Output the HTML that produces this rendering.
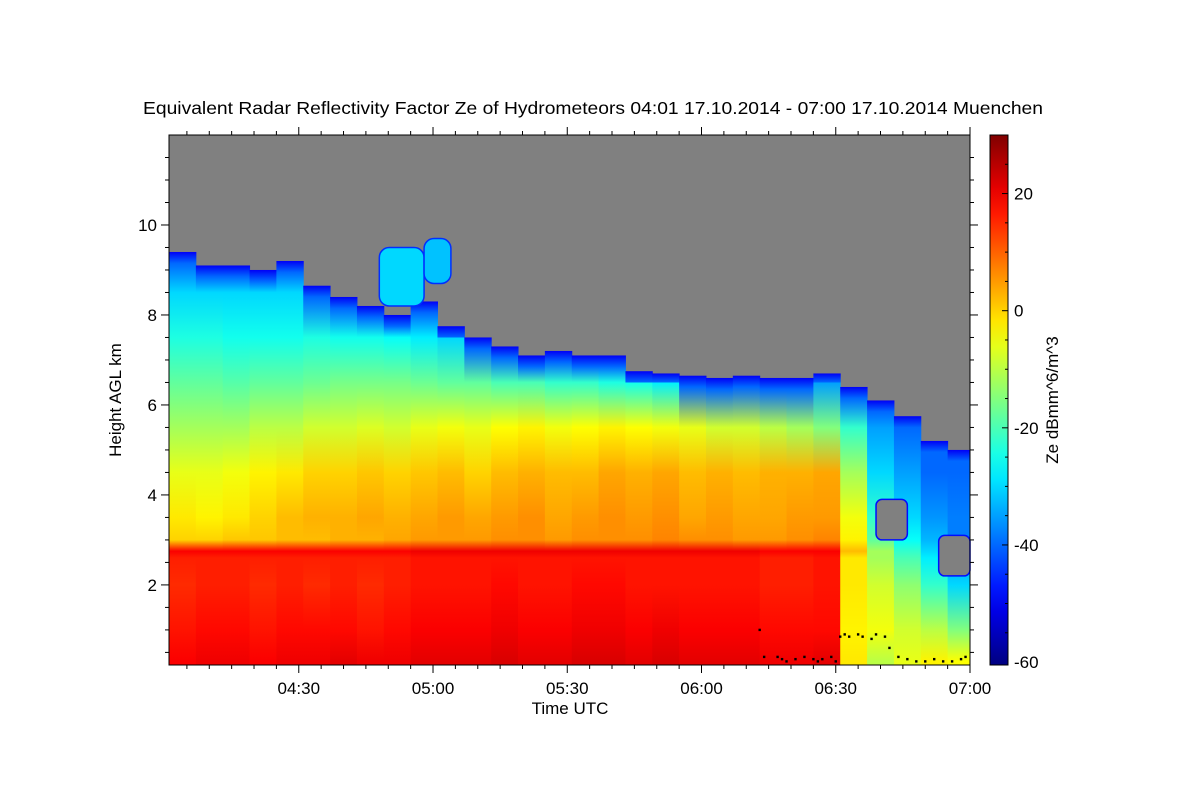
<!DOCTYPE html>
<html><head><meta charset="utf-8"><style>
html,body{margin:0;padding:0;background:#fff;width:1200px;height:800px;overflow:hidden}
svg text{font-family:"Liberation Sans",sans-serif;fill:#000}
</style></head><body>
<svg id="chart" width="1200" height="800" xmlns="http://www.w3.org/2000/svg">
<text x="143" y="114" font-size="17.5" textLength="900" lengthAdjust="spacingAndGlyphs">Equivalent Radar Reflectivity Factor Ze of Hydrometeors   04:01 17.10.2014 - 07:00 17.10.2014 Muenchen</text>
<text x="570" y="714" font-size="17" text-anchor="middle">Time UTC</text>
<text x="121" y="400" font-size="17" text-anchor="middle" transform="rotate(-90 121 400)">Height AGL km</text>
<text x="1058" y="400" font-size="17" text-anchor="middle" transform="rotate(-90 1058 400)">Ze dBmm^6/m^3</text>
<g id="plot"></g><g id="axes"></g><g id="cbar"></g>
</svg>
<script>
// ---- data ----
const colStartMin = [241,247,253,259,265,271,277,283,289,295,301,307,313,319,325,331,337,343,349,355,361,367,373,379,385,391,397,403,409,415];
const cloudTop = [9.4,9.1,9.1,9.0,9.2,8.65,8.4,8.2,8.0,8.3,7.75,7.5,7.3,7.1,7.2,7.1,7.1,6.75,6.7,6.65,6.6,6.65,6.6,6.6,6.7,6.4,6.1,5.75,5.2,5.0];
const levelsKm = [0.3,1.0,2.0,2.6,2.75,3.0,3.5,4.5,5.5,6.5,7.5,8.5,9.5];
const zeL0 = [19,20,20,19,20,20,21,20,20,21,21,21,22,21,21,22,22,21,22,21,21,21,20,20,21,-2,-10,-6,-3,-4];
const zeL1 = [17,18,18,17,18,18,18,17,18,19,19,19,20,19,19,20,20,19,20,19,19,19,18,18,18,-3,-5,-8,-10,-15];
const zeL2 = [15,16,16,15,16,15,16,15,16,17,17,17,18,17,17,18,18,17,17,17,17,17,16,16,17,-2,-8,-14,-22,-30];
const zeL3 = [16,16,16,16,16,16,16,16,16,17,17,17,17,17,17,17,17,17,17,17,17,17,16,16,17,-2,-12,-20,-28,-35];
const zeL4 = [19,19,19,19,19,19,19,19,19,20,20,20,20,20,20,20,20,20,20,20,20,20,19,19,19,2,-12,-22,-30,-36];
const zeL5 = [0,0,1,1,2,2,3,3,4,5,5,5,6,6,5,6,6,6,7,6,6,5,5,6,7,-3,-18,-26,-33,-38];
const zeL6 = [-2,-3,-2,0,2,3,3,4,3,4,5,4,5,6,4,5,6,5,6,4,5,4,4,5,5,-5,-22,-30,-36,-38];
const zeL7 = [-6,-6,-5,-3,-2,0,0,1,0,1,2,0,2,3,2,2,4,3,4,2,3,2,3,3,4,-12,-30,-35,-40,-40];
const zeL8 = [-12,-12,-12,-10,-10,-8,-8,-7,-8,-6,-5,-6,-4,-3,-5,-4,-3,-4,-5,-6,-8,-8,-10,-12,-15,-22,-35,-40,-42,-42];
const zeL9 = [-18,-18,-19,-18,-18,-17,-16,-16,-16,-17,-18,-18,-20,-20,-22,-22,-24,-25,-28,-30,-32,-32,-32,-34,-35,-30,-40,-45,-48,-50];
const zeL10 = [-24,-24,-25,-25,-25,-24,-25,-25,-26,-28,-30,-32,-35,-38,-38,-38,-38,-38,-38,-38,-38,-38,-38,-38,-38,-45,-45,-45,-45,-45];
const zeL11 = [-30,-30,-30,-30,-30,-32,-34,-36,-38,-40,-42,-42,-42,-42,-42,-42,-42,-42,-42,-42,-42,-42,-42,-42,-42,-45,-45,-45,-45,-45];
const zeL12 = [-36,-36,-36,-36,-36,-40,-42,-42,-42,-42,-42,-42,-42,-42,-42,-42,-42,-42,-42,-42,-42,-42,-42,-42,-42,-45,-45,-45,-45,-45];
const fragStartMin = [288, 298];
const fragEndMin = [298, 304];
const fragBottomKm = [8.2, 8.7];
const fragTopKm = [9.5, 9.7];
const fragZe = [-30, -32];
const gapStartMin = [399, 413];
const gapEndMin = [406, 420];
const gapBottomKm = [3.0, 2.2];
const gapTopKm = [3.9, 3.1];
const baseMin = [373,374,377,378,379,381,383,385,386,387,389,390,391,392,393,395,396,398,399,401,402,404,406,408,410,412,414,416,418,419];
const baseKm = [1.0,0.4,0.4,0.35,0.3,0.35,0.4,0.35,0.3,0.35,0.4,0.3,0.85,0.9,0.85,0.9,0.85,0.8,0.9,0.85,0.6,0.4,0.35,0.3,0.3,0.35,0.3,0.3,0.35,0.4];
const yTicks = [2,4,6,8,10];
const xTickMin = [270,300,330,360,390,420];
const xTickLabels = ["04:30","05:00","05:30","06:00","06:30","07:00"];
const cbTicks = [-60,-40,-20,0,20];
// ---- scales ----
const X0=169,X1=970,Y0=665,Y1=135,T0=241,T1=420,H0=0.22,H1=12;
const xs=m=>X0+(m-T0)/(T1-T0)*(X1-X0);
const ys=h=>Y0-(h-H0)/(H1-H0)*(Y0-Y1);
const ZMIN=-60.5,ZMAX=30;
function jet(z){let f=(z-ZMIN)/(ZMAX-ZMIN);f=Math.max(0,Math.min(1,f));
 const c=v=>Math.round(255*Math.max(0,Math.min(1,v)));
 const r=1.5-Math.abs(4*f-3),g=1.5-Math.abs(4*f-2),b=1.5-Math.abs(4*f-1);
 return `rgb(${c(r)},${c(g)},${c(b)})`;}
const NS='http://www.w3.org/2000/svg';
function mk(t,a,p){const e=document.createElementNS(NS,t);for(const k in a)e.setAttribute(k,a[k]);p.appendChild(e);return e;}
const plot=document.getElementById('plot'),axes=document.getElementById('axes'),cbar=document.getElementById('cbar');
const defs=mk('defs',{},document.getElementById('chart'));
const bg=mk('rect',{x:X0,y:Y1,width:X1-X0,height:Y0-Y1,fill:'#808080'},plot);


const rows=[zeL0,zeL1,zeL2,zeL3,zeL4,zeL5,zeL6,zeL7,zeL8,zeL9,zeL10,zeL11,zeL12];
colStartMin.forEach((m,i)=>{
 const top=cloudTop[i],yb=Y0,yt=ys(top);
 const g=mk('linearGradient',{id:'cg'+i,gradientUnits:'userSpaceOnUse',x1:0,x2:0,y1:yb,y2:yt},defs);
 levelsKm.forEach((h,k)=>{ if(h<top-0.15){const off=(yb-ys(h))/(yb-yt);mk('stop',{offset:Math.max(0,off),'stop-color':jet(rows[k][i])},g);} });
 mk('stop',{offset:Math.max(0,(yb-ys(top-0.25))/(yb-yt)),'stop-color':jet(-40)},g);
 mk('stop',{offset:1,'stop-color':jet(-50)},g);
 const x=xs(m),w=xs(Math.min(m+6,T1))-x;
 const r=mk('rect',{x:x,y:yt,width:w+0.5,height:yb-yt,fill:'url(#cg'+i+')'},plot);
 
 
});
fragStartMin.forEach((m,i)=>{
 const r=mk('rect',{x:xs(m),y:ys(fragTopKm[i]),width:xs(fragEndMin[i])-xs(m),height:ys(fragBottomKm[i])-ys(fragTopKm[i]),rx:10,fill:jet(fragZe[i]),stroke:jet(-45),'stroke-width':1.5},plot);
 
 
});
gapStartMin.forEach((m,i)=>{
 const r=mk('rect',{x:xs(m),y:ys(gapTopKm[i]),width:xs(gapEndMin[i])-xs(m),height:ys(gapBottomKm[i])-ys(gapTopKm[i]),rx:6,fill:'#808080',stroke:jet(-48),'stroke-width':1.5},plot);
 
 
});
baseMin.forEach((m,i)=>{
 const d=mk('rect',{x:xs(m)-1.2,y:ys(baseKm[i])-1.2,width:2.4,height:2.4,fill:'#000'},plot);
 
 
});
// axes frame
const fr=mk('rect',{x:X0,y:Y1,width:X1-X0,height:Y0-Y1,fill:'none',stroke:'#000','stroke-width':1},axes);


for(let h=0.5;h<12;h+=0.5){const y=ys(h);const maj=yTicks.includes(h);const L=maj?8:4;
 mk('line',{x1:X0-L,x2:X0,y1:y,y2:y,stroke:'#000'},axes);mk('line',{x1:X1,x2:X1+L,y1:y,y2:y,stroke:'#000'},axes);}
yTicks.forEach(h=>{const t=mk('text',{x:X0-12,y:ys(h)+6,'font-size':17,'text-anchor':'end'},axes);t.textContent=h;
 
 });
for(let m=245;m<=420;m+=5){const x=xs(m);const L=(m%30===0)?8:4;
 mk('line',{x1:x,x2:x,y1:Y0,y2:Y0+L,stroke:'#000'},axes);mk('line',{x1:x,x2:x,y1:Y1-L,y2:Y1,stroke:'#000'},axes);}
xTickMin.forEach((m,i)=>{const t=mk('text',{x:xs(m),y:Y0+29,'font-size':17,'text-anchor':'middle'},axes);t.textContent=xTickLabels[i];
 
 });
// colorbar
const CX=990,CW=18;
const cg=mk('linearGradient',{id:'cbg',x1:0,x2:0,y1:1,y2:0},defs);
for(let k=0;k<=20;k++){const z=ZMIN+(ZMAX-ZMIN)*k/20;mk('stop',{offset:k/20,'stop-color':jet(z)},cg);}
const cb=mk('rect',{x:CX,y:Y1,width:CW,height:Y0-Y1,fill:'url(#cbg)',stroke:'#000'},cbar);


const cy=z=>Y0-(z-ZMIN)/(ZMAX-ZMIN)*(Y0-Y1);
for(let z=-55;z<=30;z+=5){mk('line',{x1:CX+CW-(z%20===0?6:3),x2:CX+CW,y1:cy(z),y2:cy(z),stroke:'#000'},cbar);}
cbTicks.forEach(z=>{const t=mk('text',{x:CX+CW+6,y:cy(z)+6,'font-size':17},cbar);t.textContent=z;
 
 });
</script>
</body></html>
